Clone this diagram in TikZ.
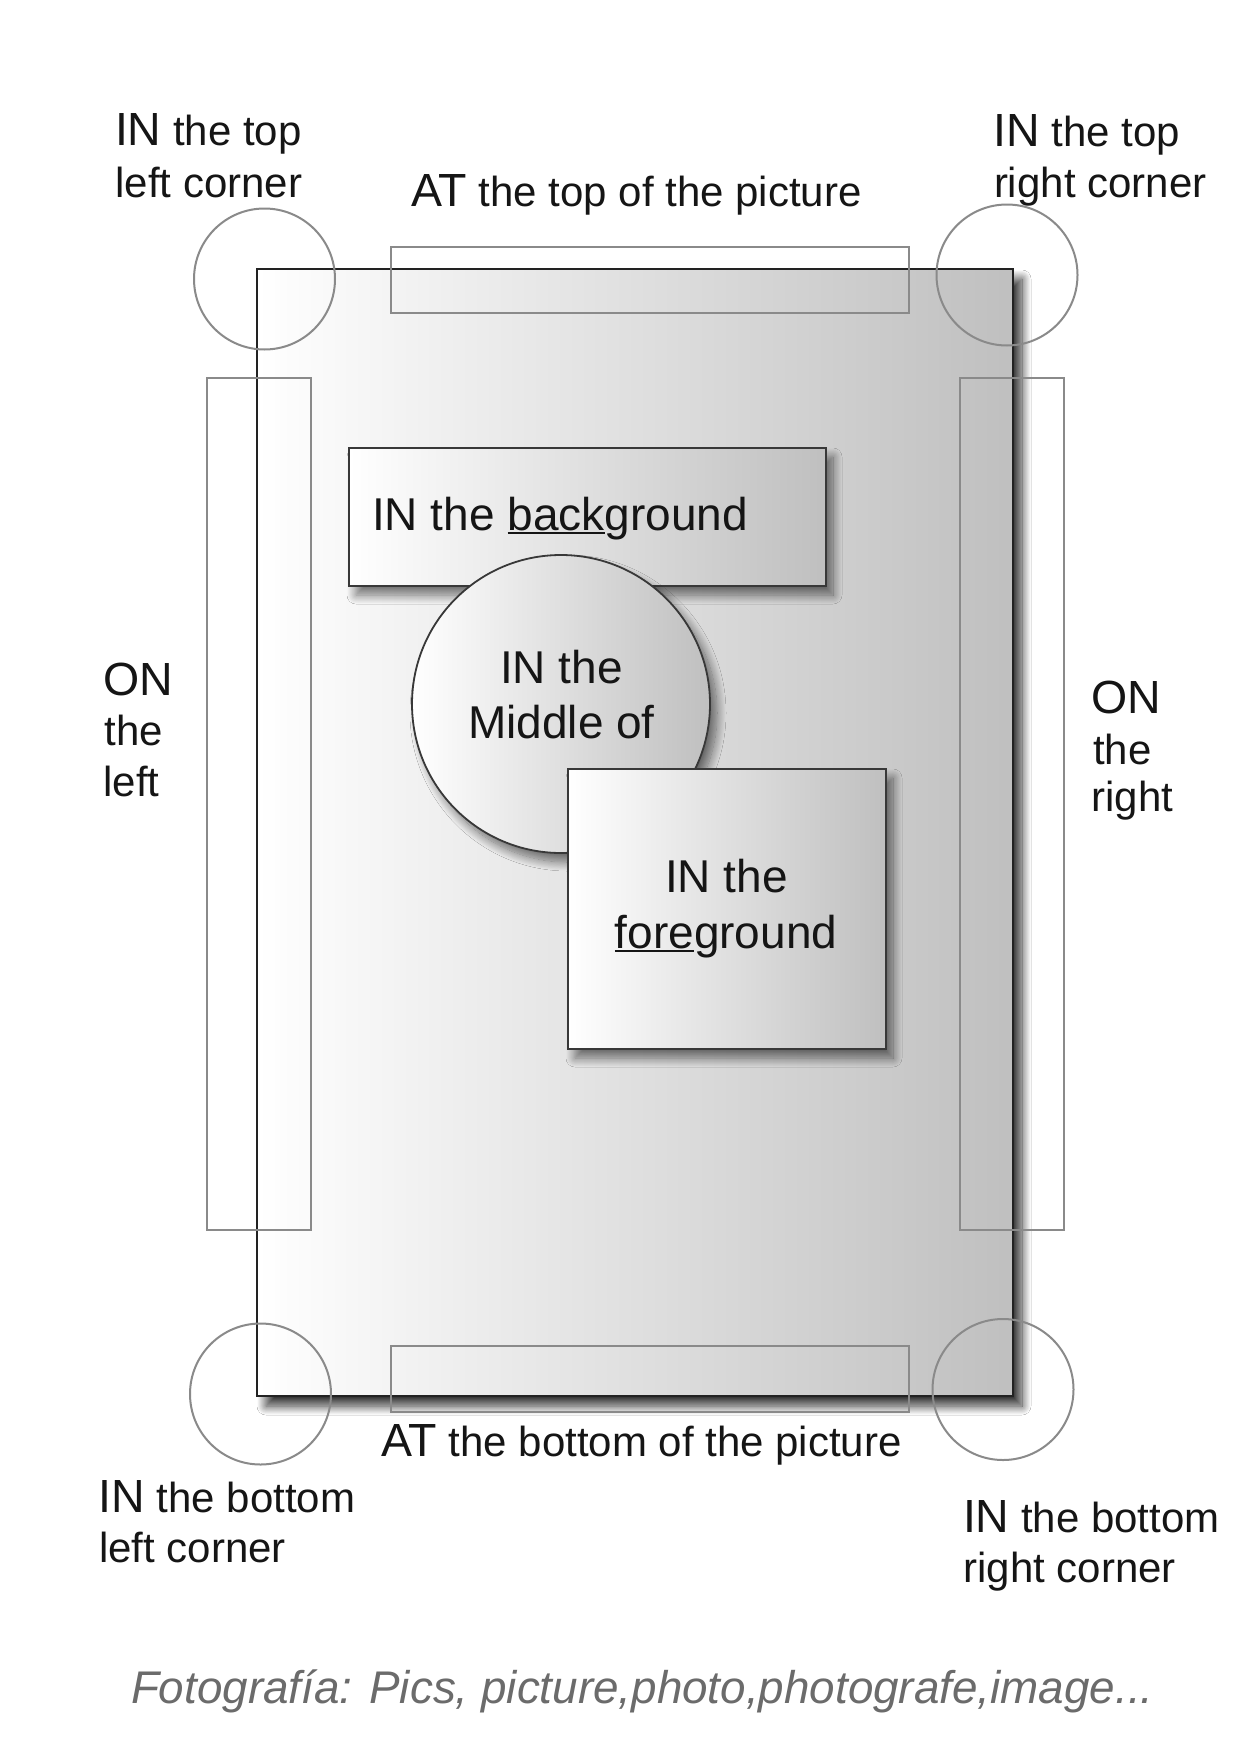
\documentclass[tikz,border=0pt]{standalone}
\usepackage{fontspec}
\setmainfont{Liberation Sans}
\usetikzlibrary{shadows.blur}
\definecolor{markc}{HTML}{8A8A8A}
\definecolor{edgec}{HTML}{222222}
\definecolor{panelc}{HTML}{383838}
\definecolor{txtc}{HTML}{151515}
\definecolor{capc}{HTML}{6B6B6B}
\newcommand\bigsz{\fontsize{46.5}{50}\selectfont}
\newcommand\myul[1]{\setbox0\hbox{#1}\rlap{\rule[-3.5pt]{\wd0}{1.8pt}}\box0}
\begin{document}
\begin{tikzpicture}[x=1pt,y=-1pt,
  every node/.style={inner sep=0pt, outer sep=0pt},
  lbl/.style={anchor=base west, text=txtc, font=\fontsize{42}{46}\selectfont},
  intxt/.style={anchor=base, text=txtc, font=\fontsize{46}{50}\selectfont},
  markbox/.style={draw=markc, line width=2pt},
  panel/.style={draw=panelc, line width=1.8pt, left color=white, right color=gray!50,
     blur shadow={shadow xshift=7pt, shadow yshift=-9pt, shadow blur radius=9pt, shadow blur steps=16, shadow opacity=55}},
]
\path[use as bounding box, fill=white] (0,0) rectangle (1240,1753);

% main picture
\draw[draw=edgec, line width=2.5pt, left color=white, right color=gray!50,
      blur shadow={shadow xshift=9pt, shadow yshift=-10pt, shadow blur radius=9pt, shadow blur steps=18, shadow opacity=80}]
  (257,269) rectangle (1013,1396);

% side bars
\draw[markbox] (391,247) rectangle (909,313);
\draw[markbox] (391,1346) rectangle (909,1412);
\draw[markbox] (207,378) rectangle (311,1230);
\draw[markbox] (960,378) rectangle (1064,1230);

% corner circles
\node[markbox, circle, minimum size=141pt] (ctl) at (264.5,279) {};
\node[markbox, circle, minimum size=141pt] (ctr) at (1007,275) {};
\node[markbox, circle, minimum size=141pt] (cbl) at (260.5,1394) {};
\node[markbox, circle, minimum size=141pt] (cbr) at (1003,1389.5) {};

% inner shapes
\node[panel, rectangle, minimum width=477pt, minimum height=138pt] (bgbox) at (587.5,517) {};
\node[intxt, anchor=base west] (bgtxt) at (372,530) {IN the \myul{back}ground};
\node[panel, circle, minimum size=298pt] (midc) at (561,704) {};
\node[intxt] (mid1) at (561.5,683) {IN the};
\node[intxt] (mid2) at (561.5,738.5) {Middle of};
\node[panel, rectangle, minimum width=318pt, minimum height=280pt] (fgbox) at (727,909) {};
\node[intxt] (fg1) at (726.5,892.5) {IN the};
\node[intxt] (fg2) at (726,948.5) {\myul{fore}ground};

% labels
\node[lbl] (tl1) at (115,145) {{\bigsz IN} the top};
\node[lbl] (tl2) at (115.5,197) {left corner};
\node[lbl] (tr1) at (993.5,146.5) {{\bigsz IN} the top};
\node[lbl] (tr2) at (994,197.5) {right corner};
\node[lbl] (top) at (411,206.7) {{\bigsz AT} the top of the picture};
\node[lbl] (l1) at (103.5,695) {{\bigsz ON}};
\node[lbl] (l2) at (104.5,745.5) {the};
\node[lbl] (l3) at (103.5,796) {left};
\node[lbl] (r1) at (1091.5,713.3) {{\bigsz ON}};
\node[lbl] (r2) at (1093,764) {the};
\node[lbl] (r3) at (1091.5,811.7) {right};
\node[lbl] (bot) at (381,1456) {{\bigsz AT} the bottom of the picture};
\node[lbl] (bl1) at (98.5,1512.7) {{\bigsz IN} the bottom};
\node[lbl] (bl2) at (99,1562.7) {left corner};
\node[lbl] (br1) at (963,1532) {{\bigsz IN} the bottom};
\node[lbl] (br2) at (963.5,1582) {right corner};

% caption
\node[anchor=base west, text=capc, font=\fontsize{45.8}{50}\selectfont\itshape] (cap) at (131,1703)
  {Fotografía: Pics, picture,photo,photografe,image...};
\end{tikzpicture}
\end{document}
